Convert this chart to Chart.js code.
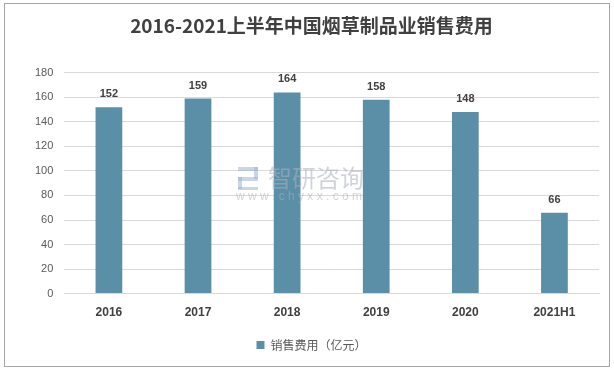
<!DOCTYPE html>
<html>
<head>
<meta charset="utf-8">
<script src="https://cdn.jsdelivr.net/npm/chart.js@4/dist/chart.umd.min.js"></script>
<style>
html,body{margin:0;padding:0;background:#fff;}
#wrap{position:relative;width:614px;height:372px;}
</style>
</head>
<body>
<div id="wrap"><canvas id="c" width="614" height="372"></canvas></div>
<script>
const categories = ['2016', '2017', '2018', '2019', '2020', '2021H1'];
const salesExpense = [152, 159, 164, 158, 148, 66];
const yTicks = [0, 20, 40, 60, 80, 100, 120, 140, 160, 180];
const seriesName = '销售费用（亿元）';
const titleText = '2016-2021上半年中国烟草制品业销售费用';

const FONT = "'Noto Sans CJK SC', 'Liberation Sans', sans-serif";
const LATIN = "'Liberation Sans', 'Noto Sans CJK SC', sans-serif";

const framePlugin = {
  id: 'frame',
  beforeDraw(chart) {
    const ctx = chart.ctx;
    ctx.save();
    ctx.fillStyle = '#fff';
    ctx.fillRect(0, 0, chart.width, chart.height);
    ctx.strokeStyle = '#a6a6a6';
    ctx.lineWidth = 1;
    ctx.strokeRect(4.5, 3.5, 605, 363);
    ctx.restore();
  },
  afterDatasetsDraw(chart) {
    const ctx = chart.ctx;
    // watermark
    ctx.save();
    ctx.globalAlpha = 0.55;
    ctx.fillStyle = '#a9b1ba';
    ctx.font = "24px " + FONT;
    ctx.textAlign = 'left';
    ctx.textBaseline = 'middle';
    ctx.fillText('智研咨询', 268, 178);
    ctx.font = "12px " + LATIN;
    ctx.fillText('w w w . c h y x x . c o m', 236, 197);
    ctx.fillStyle = '#9fb3cf';
    ctx.fillRect(238, 167, 20, 4);
    ctx.fillRect(254, 167, 4, 12);
    ctx.fillRect(238, 177, 20, 4);
    ctx.fillRect(238, 177, 4, 12);
    ctx.fillRect(238, 187, 20, 3);
    ctx.restore();
    // data labels
    const meta = chart.getDatasetMeta(0);
    ctx.save();
    ctx.fillStyle = '#404040';
    ctx.font = "bold 11px " + LATIN;
    ctx.textAlign = 'center';
    ctx.textBaseline = 'middle';
    meta.data.forEach((bar, i) => {
      ctx.fillText(String(chart.data.datasets[0].data[i]), bar.x, bar.y - 13);
    });
    ctx.restore();
  }
};

new Chart(document.getElementById('c'), {
  type: 'bar',
  data: {
    labels: categories,
    datasets: [{
      label: seriesName,
      data: salesExpense,
      backgroundColor: '#5b8fa8',
      barPercentage: 0.30,
      categoryPercentage: 1.0
    }]
  },
  options: {
    responsive: false,
    animation: false,
    devicePixelRatio: 1,
    layout: { padding: { top: 8, left: 24, right: 15, bottom: 11 } },
    plugins: {
      title: {
        display: true,
        text: titleText,
        color: '#404040',
        font: { family: FONT, size: 19, weight: 'bold' },
        padding: { top: 6, bottom: 36 }
      },
      legend: {
        position: 'bottom',
        labels: {
          boxWidth: 8,
          boxHeight: 8,
          color: '#595959',
          font: { family: FONT, size: 12 },
          padding: 12
        }
      },
      tooltip: { enabled: false }
    },
    scales: {
      x: {
        grid: { display: false },
        border: { display: true, color: '#d9d9d9' },
        afterFit(scale) { scale.height += 3; },
        ticks: {
          color: '#404040',
          font: { family: LATIN, size: 12, weight: 'bold' },
          padding: 4
        }
      },
      y: {
        min: 0,
        max: 180,
        afterBuildTicks(scale) { scale.ticks = yTicks.map(v => ({ value: v })); },
        grid: { color: '#d9d9d9', drawTicks: false },
        border: { display: false },
        ticks: {
          color: '#595959',
          font: { family: LATIN, size: 11 },
          padding: 11
        }
      }
    }
  },
  plugins: [framePlugin]
});
</script>
</body>
</html>
